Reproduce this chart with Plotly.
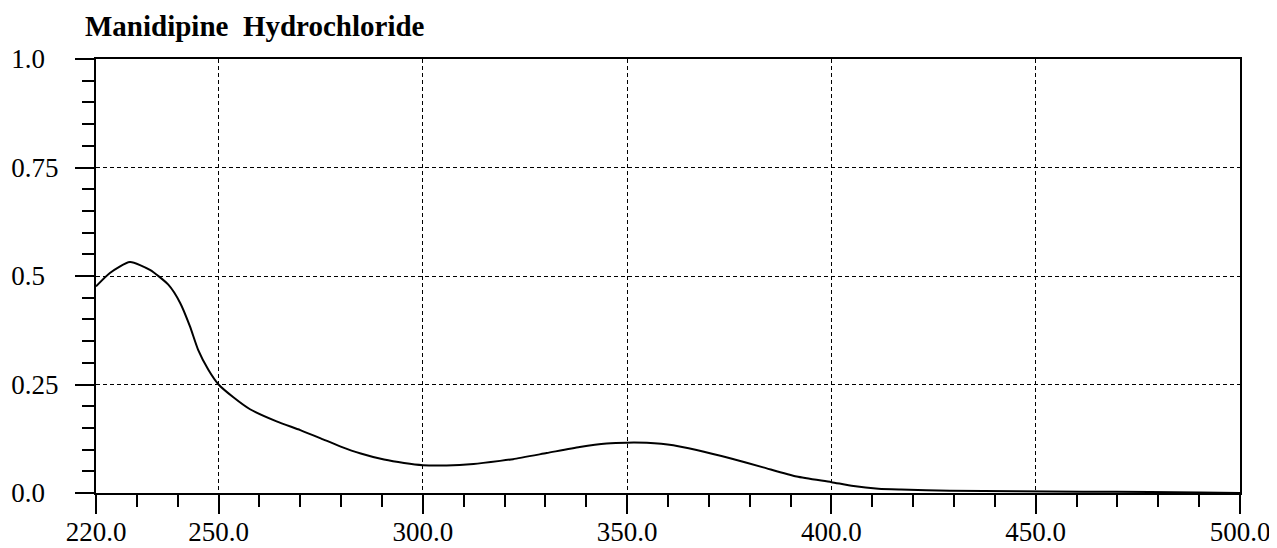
import plotly.graph_objects as go

# Wavelength (nm) and absorbance
wavelength = [220.0, 223.4, 228.3, 233.2, 237.7, 240.6, 243.0, 245.0, 247.5, 250.0,
              253.7, 257.7, 264.2, 270.0, 275.0, 279.9, 284.8, 290.5, 295.4, 300.0,
              305.8, 312.4, 318.9, 322.1, 330.3, 338.4, 345.0, 349.9, 354.8, 361.3,
              367.0, 375.2, 383.3, 391.5, 400.0, 405.4, 411.5, 417.0, 429.0, 445.3,
              461.6, 478.0, 490.2, 500.0]
absorbance = [0.476, 0.507, 0.532, 0.514, 0.480, 0.438, 0.384, 0.330, 0.284, 0.250,
              0.220, 0.193, 0.165, 0.145, 0.126, 0.107, 0.091, 0.077, 0.069, 0.064,
              0.0635, 0.067, 0.074, 0.078, 0.092, 0.106, 0.114, 0.116, 0.1155, 0.110,
              0.099, 0.080, 0.059, 0.038, 0.025, 0.016, 0.010, 0.008, 0.005, 0.004,
              0.003, 0.0025, 0.001, 0.0]

x_tickvals = [220, 250, 300, 350, 400, 450, 500]
x_ticktext = ["220.0", "250.0", "300.0", "350.0", "400.0", "450.0", "500.0"]
y_tickvals = [0, 0.25, 0.5, 0.75, 1.0]
y_ticktext = ["0.0\u2007", "0.25", "0.5\u2007", "0.75", "1.0\u2007"]

title_text = "Manidipine  Hydrochloride"

W, H = 1269, 540  # page body has an 8px margin

fig = go.Figure()
fig.add_trace(go.Scatter(
    x=wavelength, y=absorbance, mode="lines",
    line=dict(color="black", width=2, shape="spline", smoothing=0.6),
    hoverinfo="skip", showlegend=False,
))

tick_font = dict(family="Liberation Serif, Times New Roman, serif", size=27, color="black")

fig.update_layout(
    width=W, height=H,
    margin=dict(l=88, r=37, t=51, b=55),
    paper_bgcolor="white", plot_bgcolor="white",
    title=dict(text="<b>" + title_text + "</b>", x=77 / W, xanchor="left",
               y=1 - 18 / H, yanchor="middle",
               font=dict(family="Liberation Serif, Times New Roman, serif", size=29, color="black")),
    xaxis=dict(
        range=[220, 500], tickmode="array", tickvals=x_tickvals, ticktext=x_ticktext,
        ticks="outside", ticklen=19, tickwidth=2, tickcolor="black",
        showline=True, linecolor="black", linewidth=2, mirror=True,
        showgrid=True, gridcolor="black", gridwidth=1, griddash="4px,3px",
        zeroline=False, tickfont=tick_font, automargin=False, ticklabelstandoff=-5,
        minor=dict(tick0=220, dtick=10, ticks="outside", ticklen=12, tickwidth=2,
                   tickcolor="black", showgrid=False),
    ),
    yaxis=dict(
        range=[0, 1.0], tickmode="array", tickvals=y_tickvals, ticktext=y_ticktext,
        ticks="outside", ticklen=19, tickwidth=2, tickcolor="black",
        showline=True, linecolor="black", linewidth=2, mirror=True,
        showgrid=True, gridcolor="black", gridwidth=1, griddash="4px,3px",
        zeroline=False, tickfont=tick_font, ticklabelstandoff=11, automargin=False,
        minor=dict(tick0=0, dtick=0.05, ticks="outside", ticklen=12, tickwidth=2,
                   tickcolor="black", showgrid=False),
    ),
)

fig.write_html("out.html")
